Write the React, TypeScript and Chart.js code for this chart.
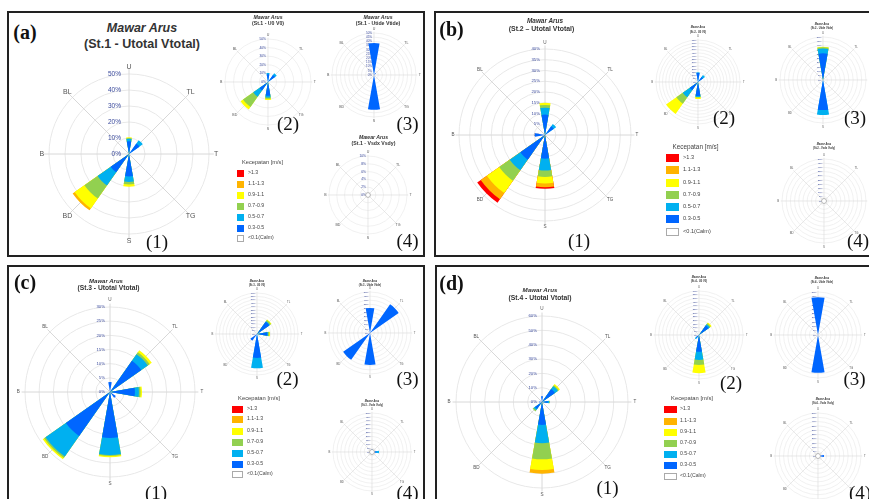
import React, { useEffect, useRef } from 'react';
import { Chart, registerables } from 'chart.js';
Chart.register(...registerables);

// ---------- categories / classes ----------
const DIRECTIONS = ['U', 'TL', 'T', 'TG', 'S', 'BD', 'B', 'BL'];
const SPEED_CLASSES = ['0.3-0.5', '0.5-0.7', '0.7-0.9', '0.9-1.1', '1.1-1.3', '>1.3'];
const SPEED_COLORS = ['#0066ff', '#00b0f0', '#92d050', '#ffff00', '#ffb400', '#ff0000'];
const LEGEND_ITEMS = ['>1.3', '1.1-1.3', '0.9-1.1', '0.7-0.9', '0.5-0.7', '0.3-0.5', '<0.1(Calm)'];
const LEGEND_COLORS = ['#ff0000', '#ffb400', '#ffff00', '#92d050', '#00b0f0', '#0066ff', '#ffffff'];
const WEDGE_DEG = 20;

// ---------- data: rows = U, TL, T, TG, S, BD, B, BL ; columns = speed classes (% of time) ----------
const st1Total = [[8, 1.5, 0.5, 0.5], [8, 2.5], [], [], [14, 3.5, 1.5, 1.5], [14, 10, 10, 7.5, 1.5], [], []];
const st1U0V0 = [[9, 1.5], [10, 2.5], [], [], [16, 2, 1.5, 1.5], [12, 9, 14.5, 3.5], [], []];
const st1Tide = [[38], [3], [], [], [41.5], [], [], []];
const st1Sd = [[], [], [], [], [], [], [], []];

const st2Total = [[9.5, 3.2, 1.3, 1], [5, 1.3], [], [], [11, 5.5, 3, 3, 1.8, 0.7], [14, 6, 6, 7, 3.5, 2], [4.7], []];
const st2U0V0 = [[14, 1], [9.5, 3.8], [], [], [21.7, 1.5, 0.6, 2.5], [15.5, 13.3, 12.1, 19.5], [], []];
const st2Tide = [[31, 5.5, 1.5, 0.7], [], [], [], [35, 5.7], [], [], []];
const st2Sd = [[], [], [], [], [], [], [], []];

const st3Total = [[3.5], [13.5, 2.8, 0.8, 0.9], [8.8, 1.4, 0.6, 0.5], [2.5], [16.2, 6, 0.4, 0.4], [19, 8.8, 0.6, 0.6], [], []];
const st3U0V0 = [[], [22, 1, 2, 1], [15, 1, 2, 1], [], [35, 15], [12], [], []];
const st3Tide = [[30.5], [42.7], [], [], [39], [40], [], []];
const st3Sd = [[4], [], [6, 3], [], [], [], [], []];

const st4Total = [[4], [11, 2.5, 0.8, 1], [4, 1, 0.5], [], [16, 12.7, 11.3, 7.5, 2.5], [6, 1, 1], [2], []];
const st4U0V0 = [[], [16, 2, 1.5, 1.5], [], [], [23, 11, 7, 11], [5, 2], [], []];
const st4Tide = [[44], [], [], [], [44], [], [], []];
const st4Sd = [[2], [], [7], [], [], [], [], []];

// ---------- plugin: spokes, tick labels, direction labels, calm circle ----------
const roseDecor = {
  id: 'roseDecor',
  beforeDatasetsDraw(chart: any, _a: any, o: any) {
    const s = chart.scales.r;
    const ctx = chart.ctx;
    const cx = s.xCenter, cy = s.yCenter, R = s.drawingArea;
    ctx.save();
    ctx.strokeStyle = o.spokeColor;
    ctx.lineWidth = o.spokeWidth;
    for (let k = 0; k < 8; k++) {
      const a = ((k * 45 - 90) * Math.PI) / 180;
      const L = R * o.spokeR;
      ctx.beginPath();
      ctx.moveTo(cx, cy);
      ctx.lineTo(cx + L * Math.cos(a), cy + L * Math.sin(a));
      ctx.stroke();
    }
    ctx.fillStyle = o.tickColor;
    ctx.font = `${o.tickSize}px "Liberation Sans", Arial, sans-serif`;
    ctx.textAlign = 'right';
    ctx.textBaseline = 'middle';
    s.ticks.forEach((t: any) => {
      const d = s.getDistanceFromCenterForValue(t.value);
      ctx.fillText(`${t.value}%`, cx - o.tickOff, cy - d);
    });
    ctx.fillStyle = o.dirColor;
    ctx.font = `${o.dirSize}px "Liberation Sans", Arial, sans-serif`;
    ctx.textAlign = 'center';
    DIRECTIONS.forEach((lab, k) => {
      const a = ((k * 45 - 90) * Math.PI) / 180;
      const L = R * o.labelR;
      ctx.fillText(lab, cx + L * Math.cos(a), cy + L * Math.sin(a));
    });
    ctx.restore();
  },
  afterDatasetsDraw(chart: any, _a: any, o: any) {
    if (!o.calm) return;
    const s = chart.scales.r;
    const ctx = chart.ctx;
    ctx.save();
    ctx.fillStyle = '#fff';
    ctx.strokeStyle = '#9a9a9a';
    ctx.lineWidth = 0.7;
    ctx.beginPath();
    ctx.arc(s.xCenter, s.yCenter, o.calm, 0, Math.PI * 2);
    ctx.fill();
    ctx.stroke();
    ctx.restore();
  },
};

function buildData(rows: number[][]) {
  const labels: string[] = [];
  DIRECTIONS.forEach((d) => labels.push(d, ''));
  const datasets = SPEED_CLASSES.map((cls, j) => ({
    label: cls,
    data: labels.map((_, i) => {
      if (i % 2) return 0;
      const row = rows[i / 2] || [];
      if (!row[j]) return 0;
      let cum = 0;
      for (let k = 0; k <= j; k++) cum += row[k] || 0;
      return cum;
    }),
    backgroundColor: SPEED_COLORS[j],
    borderWidth: 0,
    angle: (c: any) => (c.dataIndex % 2 ? 45 - WEDGE_DEG : WEDGE_DEG),
  }));
  return { labels, datasets };
}

type RoseProps = {
  rows: number[][]; max: number; step: number; cx: number; cy: number; R: number;
  labelR: number; spokeR: number; dirSize: number; tickSize: number; tickOff: number;
  gridW: number; calm?: number;
};

function Rose(p: RoseProps) {
  const ref = useRef<HTMLCanvasElement>(null);
  const P = Math.ceil(p.R * (p.labelR - 1)) + 12;
  const size = 2 * (p.R + P);
  useEffect(() => {
    const chart = new Chart(ref.current as HTMLCanvasElement, {
      type: 'polarArea',
      data: buildData(p.rows) as any,
      options: {
        responsive: false,
        animation: false,
        devicePixelRatio: 1,
        layout: { padding: P },
        plugins: {
          legend: { display: false },
          tooltip: { enabled: false },
          roseDecor: {
            spokeColor: '#d8d8d8', spokeWidth: p.gridW, spokeR: p.spokeR, labelR: p.labelR,
            tickColor: '#3a4a9c', tickSize: p.tickSize, tickOff: p.tickOff,
            dirColor: '#555', dirSize: p.dirSize, calm: p.calm || 0,
          },
        } as any,
        scales: {
          r: {
            min: 0,
            max: p.max,
            startAngle: -WEDGE_DEG / 2,
            ticks: { display: false, stepSize: p.step },
            grid: { color: '#e8e8e8', lineWidth: p.gridW, circular: true },
            angleLines: { display: false },
            pointLabels: { display: false },
          },
        },
      } as any,
      plugins: [roseDecor as any],
    });
    return () => chart.destroy();
  }, []);
  return (
    <canvas
      ref={ref}
      width={size}
      height={size}
      style={{ position: 'absolute', left: p.cx - p.R - P, top: p.cy - p.R - P, width: size, height: size }}
    />
  );
}

const MAIN = { labelR: 1.08, spokeR: 1.04, gridW: 1 };
const SMALL = { labelR: 1.09, spokeR: 1.03, gridW: 0.6 };

const ROSES: RoseProps[] = [
  { rows: st1Total, max: 50, step: 10, cx: 129, cy: 154, R: 80, ...MAIN, labelR: 1.09, spokeR: 1.06, dirSize: 7, tickSize: 6.5, tickOff: 8 },
  { rows: st1U0V0, max: 50, step: 10, cx: 268, cy: 82, R: 43, ...SMALL, dirSize: 3.6, tickSize: 3.3, tickOff: 2 },
  { rows: st1Tide, max: 50, step: 5, cx: 374, cy: 75, R: 42, ...SMALL, dirSize: 3.6, tickSize: 3, tickOff: 2 },
  { rows: st1Sd, max: 10, step: 2, cx: 368, cy: 195, R: 39, ...SMALL, dirSize: 3.6, tickSize: 3.3, tickOff: 2, calm: 2.4 },

  { rows: st2Total, max: 40, step: 5, cx: 545, cy: 135, R: 86, ...MAIN, labelR: 1.07, dirSize: 4.6, tickSize: 4.3, tickOff: 5 },
  { rows: st2U0V0, max: 65, step: 5, cx: 698, cy: 82, R: 42, ...SMALL, dirSize: 2.8, tickSize: 2.4, tickOff: 1.5 },
  { rows: st2Tide, max: 50, step: 5, cx: 823, cy: 80, R: 43, ...SMALL, dirSize: 2.8, tickSize: 2.4, tickOff: 1.5 },
  { rows: st2Sd, max: 50, step: 5, cx: 824, cy: 201, R: 42, ...SMALL, dirSize: 2.8, tickSize: 2.4, tickOff: 1.5, calm: 2.5 },

  { rows: st3Total, max: 30, step: 5, cx: 110, cy: 392, R: 85, ...MAIN, dirSize: 4.6, tickSize: 4.3, tickOff: 5 },
  { rows: st3U0V0, max: 60, step: 5, cx: 257, cy: 334, R: 41, ...SMALL, dirSize: 2.8, tickSize: 2.4, tickOff: 1.5 },
  { rows: st3Tide, max: 50, step: 5, cx: 370, cy: 333, R: 41, ...SMALL, dirSize: 2.8, tickSize: 2.4, tickOff: 1.5 },
  { rows: st3Sd, max: 50, step: 5, cx: 372, cy: 452, R: 39, ...SMALL, dirSize: 2.8, tickSize: 2.4, tickOff: 1.5, calm: 2.5 },

  { rows: st4Total, max: 60, step: 10, cx: 542, cy: 402, R: 86, ...MAIN, dirSize: 4.6, tickSize: 4.3, tickOff: 5 },
  { rows: st4U0V0, max: 60, step: 5, cx: 699, cy: 335, R: 44, ...SMALL, dirSize: 2.8, tickSize: 2.4, tickOff: 1.5 },
  { rows: st4Tide, max: 50, step: 5, cx: 818, cy: 335, R: 43, ...SMALL, dirSize: 2.8, tickSize: 2.4, tickOff: 1.5 },
  { rows: st4Sd, max: 50, step: 5, cx: 818, cy: 456, R: 43, ...SMALL, dirSize: 2.8, tickSize: 2.4, tickOff: 1.5, calm: 2.5 },
];

const SANS = '"Liberation Sans", Arial, sans-serif';
const SERIF = '"Liberation Serif", "Times New Roman", serif';

function Txt(p: { x: number; y: number; size: number; text: string; bold?: boolean; italic?: boolean; serif?: boolean; left?: boolean; color?: string }) {
  return (
    <div
      style={{
        position: 'absolute', left: p.x, top: p.y,
        transform: p.left ? 'translate(0,-50%)' : 'translate(-50%,-50%)',
        fontSize: p.size, lineHeight: 1, whiteSpace: 'nowrap',
        fontWeight: p.bold ? 700 : 400, fontStyle: p.italic ? 'italic' : 'normal',
        fontFamily: p.serif ? SERIF : SANS, color: p.color || '#222',
      }}
    >
      {p.text}
    </div>
  );
}

function Title(p: { x: number; y1: number; y2: number; size: number; sub: string; x2?: number; size2?: number }) {
  return (
    <>
      <Txt x={p.x} y={p.y1} size={p.size} text="Mawar Arus" bold italic color="#333" />
      <Txt x={p.x2 ?? p.x} y={p.y2} size={p.size2 ?? p.size} text={p.sub} bold color="#333" />
    </>
  );
}

function Legend(p: { titleX: number; titleY: number; titleSize: number; boxX: number; boxW: number; boxH: number; rows: number[]; labelX: number; size: number }) {
  return (
    <>
      <Txt x={p.titleX} y={p.titleY} size={p.titleSize} text="Kecepatan [m/s]" color="#444" />
      {LEGEND_ITEMS.map((lab, i) => (
        <React.Fragment key={lab}>
          <div
            style={{
              position: 'absolute', left: p.boxX, top: p.rows[i] - p.boxH / 2, width: p.boxW, height: p.boxH,
              background: LEGEND_COLORS[i], boxSizing: 'border-box',
              border: i === 6 ? '1px solid #aaa' : 'none',
            }}
          />
          <Txt x={p.labelX} y={p.rows[i]} size={p.size} text={lab} left color="#444" />
        </React.Fragment>
      ))}
    </>
  );
}

function Box(p: { x: number; y: number; w: number; h: number }) {
  return (
    <div style={{ position: 'absolute', left: p.x, top: p.y, width: p.w, height: p.h, border: '2px solid #222', boxSizing: 'border-box' }} />
  );
}

export default function App() {
  return (
    <div style={{ position: 'absolute', left: 0, top: 0, width: 869, height: 499, overflow: 'hidden', background: '#fff' }}>
      <Box x={7} y={11} w={418} h={246} />
      <Box x={434} y={11} w={445} h={246} />
      <Box x={7} y={265} w={418} h={250} />
      <Box x={435} y={265} w={445} h={250} />

      {ROSES.map((r, i) => <Rose key={i} {...r} />)}

      {/* panel (a) */}
      <Txt x={25} y={32} size={20} text="(a)" bold serif color="#111" />
      <Title x={142} y1={28} y2={44} size={12.5} sub="(St.1 - Utotal Vtotal)" />
      <Title x={268} y1={18.3} y2={24} size={5.2} sub="(St.1 - U0 V0)" />
      <Title x={378} y1={18.3} y2={24} size={5.2} sub="(St.1 - Utide Vtide)" />
      <Title x={373.5} y1={137.5} y2={144.3} size={5.2} sub="(St.1 - Vsdx Vsdy)" />
      <Legend titleX={262.5} titleY={163} titleSize={5.7} boxX={237} boxW={7} boxH={7} rows={[173, 184, 195, 206, 217, 228, 238]} labelX={248} size={5.2} />
      <Txt x={157} y={241} size={19} text="(1)" serif color="#111" />
      <Txt x={288} y={123} size={19} text="(2)" serif color="#111" />
      <Txt x={407.5} y={123} size={19} text="(3)" serif color="#111" />
      <Txt x={407.5} y={240} size={19} text="(4)" serif color="#111" />

      {/* panel (b) */}
      <Txt x={451.5} y={29} size={20} text="(b)" bold serif color="#111" />
      <Title x={545} y1={20.7} y2={29.3} size={6.4} x2={541.5} size2={6.9} sub="(St.2 – Utotal Vtotal)" />
      <Title x={698} y1={28.3} y2={32.7} size={2.6} sub="(St.2 - U0 V0)" />
      <Title x={822} y1={25} y2={29.3} size={2.6} sub="(St.2 - Utide Vtide)" />
      <Title x={824} y1={145} y2={149} size={2.6} sub="(St.2 - Vsdx Vsdy)" />
      <Legend titleX={695.5} titleY={147} titleSize={6.4} boxX={666} boxW={13} boxH={7.5} rows={[158, 170, 183, 195, 207, 219, 232]} labelX={683} size={5.6} />
      <Txt x={579} y={240} size={19} text="(1)" serif color="#111" />
      <Txt x={724} y={117} size={19} text="(2)" serif color="#111" />
      <Txt x={855} y={117} size={19} text="(3)" serif color="#111" />
      <Txt x={858} y={240} size={19} text="(4)" serif color="#111" />

      {/* panel (c) */}
      <Txt x={25} y={282} size={20} text="(c)" bold serif color="#111" />
      <Title x={106} y1={281} y2={288.3} size={6} x2={108.5} size2={6.7} sub="(St.3 - Utotal Vtotal)" />
      <Title x={257} y1={282} y2={285.7} size={2.6} sub="(St.3 - U0 V0)" />
      <Title x={370} y1={282} y2={286} size={2.6} sub="(St.3 - Utide Vtide)" />
      <Title x={372} y1={401.7} y2={405.7} size={2.6} sub="(St.3 - Vsdx Vsdy)" />
      <Legend titleX={259} titleY={399} titleSize={5.8} boxX={232} boxW={11} boxH={7} rows={[409, 419, 431, 442, 453, 464, 474]} labelX={247} size={5.2} />
      <Txt x={156} y={492} size={19} text="(1)" serif color="#111" />
      <Txt x={287.5} y={378} size={19} text="(2)" serif color="#111" />
      <Txt x={407.5} y={378} size={19} text="(3)" serif color="#111" />
      <Txt x={407.5} y={492} size={19} text="(4)" serif color="#111" />

      {/* panel (d) */}
      <Txt x={451.5} y={283} size={20} text="(d)" bold serif color="#111" />
      <Title x={540} y1={290} y2={298} size={6.2} size2={6.8} sub="(St.4 - Utotal Vtotal)" />
      <Title x={699} y1={278.3} y2={282.3} size={2.6} sub="(St.4 - U0 V0)" />
      <Title x={822} y1={279} y2={283.3} size={2.6} sub="(St.4 - Utide Vtide)" />
      <Title x={823} y1={400} y2={404.3} size={2.6} sub="(St.4 - Vsdx Vsdy)" />
      <Legend titleX={692} titleY={399} titleSize={5.8} boxX={664} boxW={13} boxH={7} rows={[409, 421, 432, 443, 454, 465, 476]} labelX={680} size={5.2} />
      <Txt x={607.5} y={487} size={19} text="(1)" serif color="#111" />
      <Txt x={731} y={382} size={19} text="(2)" serif color="#111" />
      <Txt x={854.5} y={378} size={19} text="(3)" serif color="#111" />
      <Txt x={860} y={492} size={19} text="(4)" serif color="#111" />
    </div>
  );
}
